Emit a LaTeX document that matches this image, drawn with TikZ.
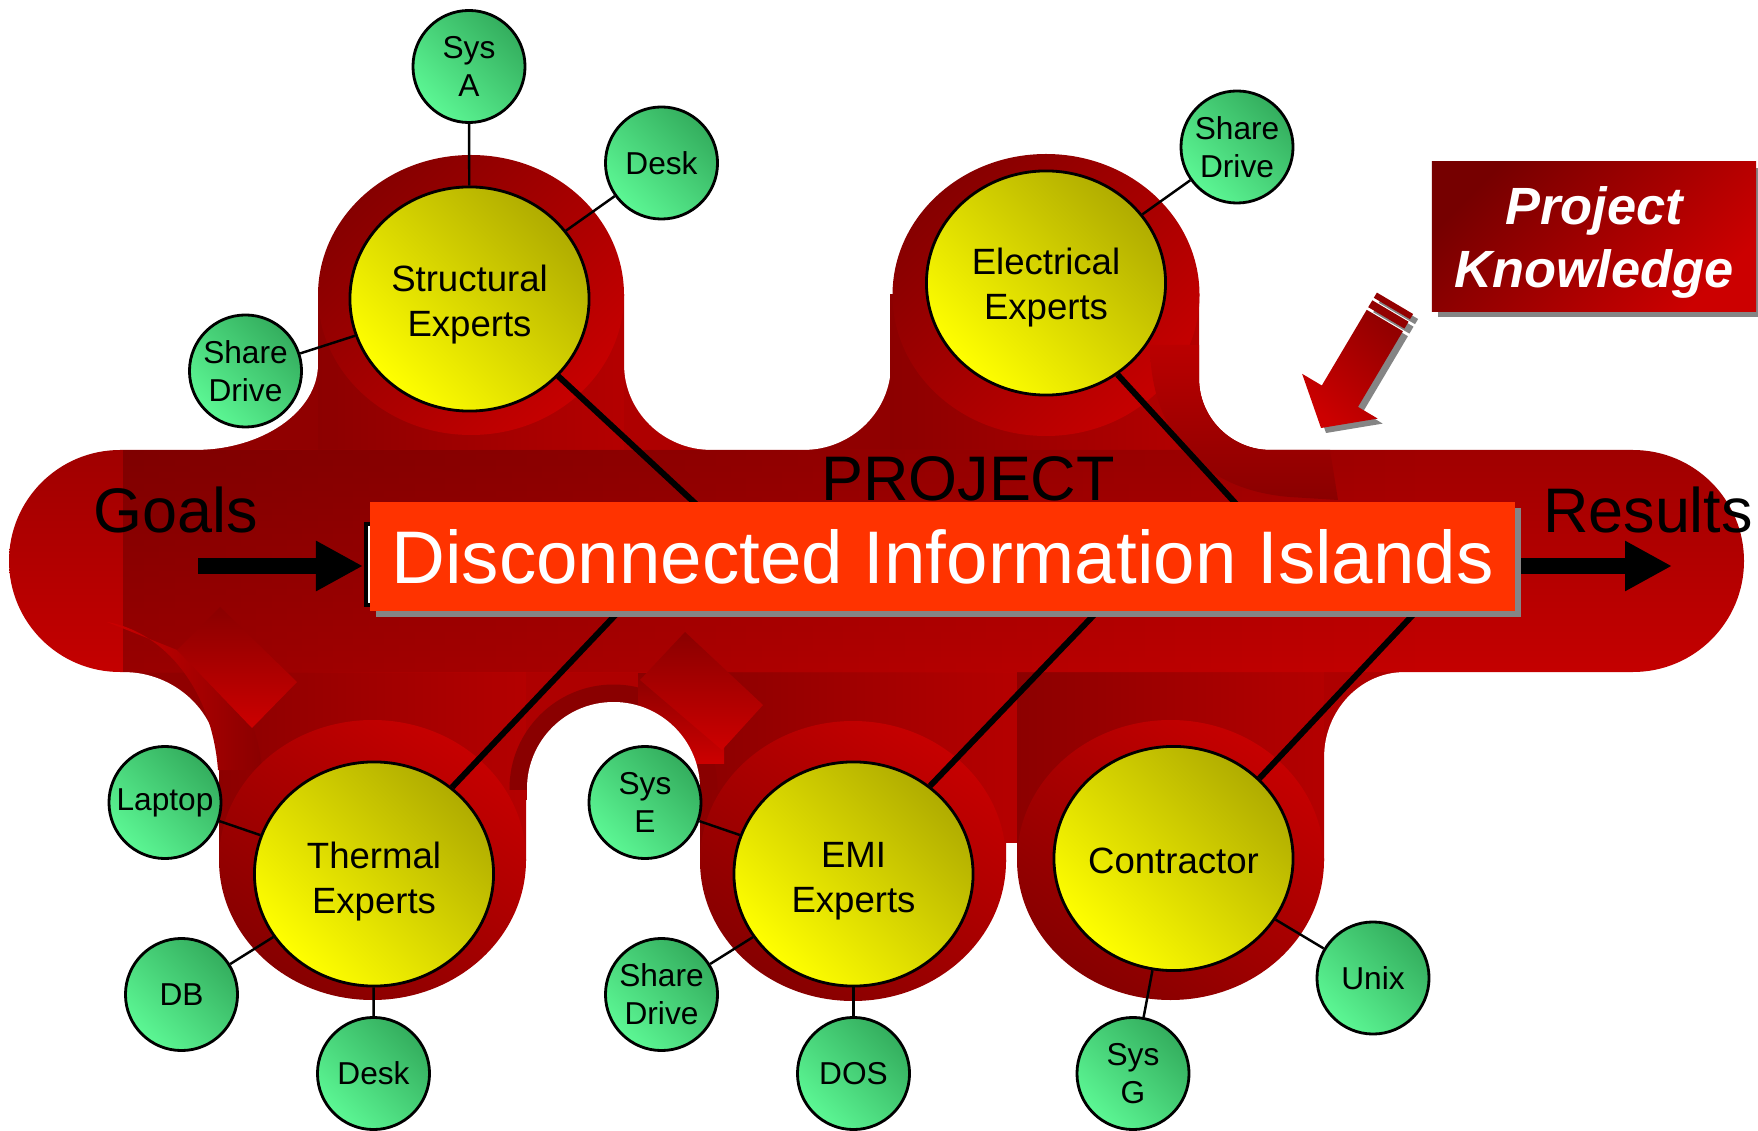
\documentclass[tikz,border=0pt]{standalone}
\usepackage{fontspec}
\setmainfont{Liberation Sans}
\usetikzlibrary{shapes.geometric,arrows.meta,fadings}

\definecolor{bandtop}{HTML}{A00000}
\definecolor{bandbot}{HTML}{C40000}
\definecolor{bandshadow}{HTML}{3A0000}
\definecolor{stemdark}{HTML}{8C0000}
\definecolor{stemlight}{HTML}{B40000}
\definecolor{filletdark}{HTML}{900000}
\definecolor{filletlight}{HTML}{AE0000}
\definecolor{halodark}{HTML}{860000}
\definecolor{halolight}{HTML}{C60000}
\definecolor{ringdark}{HTML}{8A0000}
\definecolor{crescenttop}{HTML}{BA0000}
\definecolor{ghostdark}{HTML}{8A0000}
\definecolor{ghostlight}{HTML}{CC0000}
\definecolor{yellowdark}{HTML}{B0AC00}
\definecolor{yellowlight}{HTML}{FFFF00}
\definecolor{greendark}{HTML}{34AE5E}
\definecolor{greenlight}{HTML}{5CF794}
\definecolor{banner}{HTML}{FF3300}
\definecolor{shadowgray}{HTML}{858585}
\definecolor{pkdark}{HTML}{760000}
\definecolor{pklight}{HTML}{CC0000}
\definecolor{pkarrowdark}{HTML}{930000}
\definecolor{pkarrowlight}{HTML}{CC0000}

% darkening that is strongest on the left and vanishes to the right
\tikzfading[name=leftheavy, left color=transparent!0, right color=transparent!100]

\tikzset{
  expert/.style={ellipse, draw=black, line width=0.8pt, inner sep=0pt,
    minimum width=2.39cm, minimum height=2.24cm,
    top color=yellowdark, bottom color=yellowlight, shading angle=-45},
  expertlabel/.style={align=center, inner sep=0pt,
    font=\fontsize{10.4}{12.8}\selectfont},
  store/.style={circle, draw=black, line width=0.8pt, inner sep=0pt,
    minimum size=1.12cm, align=center,
    font=\fontsize{9}{10.8}\selectfont,
    top color=greendark, bottom color=greenlight, shading angle=-45},
  link/.style={draw=black, line width=0.7pt},
  spoke/.style={draw=black, line width=1.7pt},
  bigword/.style={anchor=base, inner sep=0pt, font=\fontsize{17.9}{20}\selectfont},
  flow/.style={draw=black, line width=0.15cm, -{Triangle[length=0.47cm, width=0.47cm]}},
}

\begin{document}
\begin{tikzpicture}[x=0.01cm, y=-0.01cm]
\path[use as bounding box, fill=white] (0,0) rectangle (1758,1131);

% concave fillets where the stems meet the band
\fill[filletdark] (194,364) rectangle (318,450);
\fill[white] (194,364) ellipse [x radius=124, y radius=86];
\fill[filletlight] (624,364) rectangle (712,450);
\fill[white] (712,364) ellipse [x radius=88, y radius=86];
\fill[filletdark] (803,364) rectangle (891,450);
\fill[white] (803,364) ellipse [x radius=88, y radius=86];
\fill[filletlight] (1199,378) rectangle (1271,450);
\fill[white] (1271,378) ellipse [x radius=72, y radius=72];
\fill[filletdark] (123,670) rectangle (219,764);
\fill[white] (123,764) ellipse [x radius=96, y radius=92];
\fill[filletlight] (1324,670) rectangle (1405,758);
\fill[white] (1405,758) ellipse [x radius=81, y radius=86];

% slabs between the lower stems
\fill[filletlight] (520,668) rectangle (706,800);
\fill[stemlight] (1000,668) rectangle (1023,843);

% stems
\shade[left color=stemdark, right color=stemlight] (318,295) rectangle (624,452);
\shade[left color=stemdark, right color=stemlight] (890,295) rectangle (1199,452);
\shade[left color=stemdark, right color=stemlight] (219,668) rectangle (526,860);
\shade[left color=stemdark, right color=stemlight] (700,668) rectangle (1006,861);
\shade[left color=stemdark, right color=stemlight] (1017,668) rectangle (1324,860);

% the project band, darker towards its upper left
\shade[top color=bandtop, bottom color=bandbot, rounded corners=1.11cm]
  (9,450) rectangle (1744,672);
\fill[bandshadow, fill opacity=0.32, path fading=leftheavy] (123,450) rectangle (1420,672);

% darker rim over the arch between the lower stems
\begin{scope}
  \clip (500,660) rectangle (730,789);
  \fill[ringdark] (613.5,788.5) circle [radius=104];
\end{scope}

% faint arrows inside the band
\shade[left color=ghostlight, right color=ghostdark]
  (107,622) .. controls (165,632) and (212,690) .. (218,770) -- (262,770)
  .. controls (258,712) and (225,668) .. (177,650) -- cycle;
\shade[top color=ghostdark, bottom color=ghostlight] (220,607) -- (297,682) -- (252,728) -- (177,650) -- cycle;
\shade[top color=ghostdark, bottom color=ghostlight] (638,673) rectangle (724,763);
\shade[top color=ghostdark, bottom color=ghostlight] (685,632) -- (763,705) -- (722,750) -- (640,680) -- cycle;

% arch cut out below the band
\fill[white] (613.5,788.5) circle [radius=86.5];
\fill[white] (527,788) rectangle (700,1131);

% halos around the expert groups
\shade[top color=halodark, bottom color=halolight, shading angle=45] (471,295) ellipse [x radius=153, y radius=140];
\shade[top color=halodark, bottom color=halolight, shading angle=45] (1046,295) ellipse [x radius=153.5, y radius=141];
\shade[top color=halolight, bottom color=halodark, shading angle=-35] (372.5,860) ellipse [x radius=153.5, y radius=140];
\shade[top color=halolight, bottom color=halodark, shading angle=-35] (853,861) ellipse [x radius=153, y radius=140];
\shade[top color=halolight, bottom color=halodark, shading angle=-35] (1170.5,860) ellipse [x radius=153.5, y radius=140];

% dark crescent below the right fillet of the electrical stem
\shade[top color=crescenttop, bottom color=ringdark]
  (1150,345) .. controls (1150,430) and (1200,490) .. (1290,497) -- (1338,500)
  -- (1330,450) -- (1271,450) .. controls (1231.2,450) and (1199,417.8) .. (1199,378)
  -- (1199,345) -- cycle;

% expert groups
\node[expert] (struct) at (469.5,299) {};
\node[expert] (elec) at (1046,283) {};
\node[expert] (thermal) at (374,874) {};
\node[expert] (emi) at (853.5,874) {};
\node[expert] (contr) at (1173.5,858.5) {};

% hidden ends of the spokes behind the banner
\coordinate (hA) at (740,545);
\coordinate (hB) at (1270,541);
\coordinate (hC) at (658,570);
\coordinate (hD) at (1137,570);
\coordinate (hE) at (1455,570);

\draw[spoke] (struct.-41) -- (hA);
\draw[spoke] (elec.-52.4) -- (hB);
\draw[spoke] (hC) -- (thermal.48.1);
\draw[spoke] (hD) -- (emi.49.2);
\draw[spoke] (hE) -- (contr.43.1);

\node[expertlabel] (structText) at (469.5,304.5) {Structural\\Experts};
\node[expertlabel] (elecText) at (1046,288) {Electrical\\Experts};
\node[expertlabel] (thermalText) at (374,882) {Thermal\\Experts};
\node[expertlabel] (emiText) at (853.5,881) {EMI\\Experts};
\node[expertlabel] (contrText) at (1173.5,860.5) {Contractor};

% band labels and flow arrows
\node[bigword] (project) at (968,501) {PROJECT};
\coordinate (goalsTail) at (198,566);
\coordinate (goalsTip) at (363,566);
\coordinate (resultsTail) at (1515,566);
\coordinate (resultsTip) at (1672,566);
\draw[flow] (goalsTail) -- (goalsTip);
\draw[flow] (resultsTail) -- (resultsTip);
\node[bigword] (goals) at (176,533) {Goals};
\node[bigword] (results) at (1648,533) {Results};

% banner
\draw[black, line width=1pt, fill=white] (366,524) rectangle (1500,605);
\fill[shadowgray] (376,508) rectangle (1521,617);
\node[fill=banner, inner sep=0pt, minimum width=11.45cm, minimum height=1.09cm,
  text=white, font=\fontsize{21.2}{24}\selectfont] (islands) at (942.5,556.5)
  {Disconnected Information Islands};

% information stores
\node[store] (sysA) at (469,66.5) {Sys\\A};
\node[store] (deskA) at (661.5,163) {Desk};
\node[store] (shareA) at (245.5,371) {Share\\Drive};
\node[store] (shareB) at (1237,147) {Share\\Drive};
\node[store] (laptop) at (165,802.5) {Laptop};
\node[store] (db) at (181.5,994.5) {DB};
\node[store] (deskB) at (373.5,1073.5) {Desk};
\node[store] (sysE) at (645,802.5) {Sys\\E};
\node[store] (shareC) at (661.5,994.5) {Share\\Drive};
\node[store] (dos) at (853.5,1073.5) {DOS};
\node[store] (unix) at (1373,978) {Unix};
\node[store] (sysG) at (1133,1073.5) {Sys\\G};

\draw[link] (sysA) -- (struct);
\draw[link] (deskA) -- (struct);
\draw[link] (shareA) -- (struct);
\draw[link] (shareB) -- (elec);
\draw[link] (laptop) -- (thermal);
\draw[link] (db) -- (thermal);
\draw[link] (deskB) -- (thermal);
\draw[link] (sysE) -- (emi);
\draw[link] (shareC) -- (emi);
\draw[link] (dos) -- (emi);
\draw[link] (unix) -- (contr);
\draw[link] (sysG) -- (contr);

% project knowledge callout
\fill[shadowgray] (1438,168) rectangle (1762,317);
\node[inner sep=0pt, minimum width=3.24cm, minimum height=1.49cm,
  top color=pkdark, bottom color=pklight, shading angle=45] (pkbox) at (1594,236.5) {};
\node[align=center, inner sep=0pt, text=white,
  font=\bfseries\itshape\fontsize{14.9}{17.9}\selectfont] (pktext) at (1594,242)
  {Project\\Knowledge};

% arrow from the callout towards the band
\begin{scope}[shift={(5,5)}]
  \fill[shadowgray] (1321,428) -- (1377.7,418.6) -- (1358,406.9) -- (1402.9,331.2)
    -- (1366.7,309.8) -- (1321.8,385.5) -- (1302.1,373.8) -- cycle;
  \fill[shadowgray] (1404.4,328.6) -- (1408.5,321.7) -- (1372.3,300.3) -- (1368.2,307.2) -- cycle;
  \fill[shadowgray] (1410.0,319.2) -- (1413.1,314.0) -- (1376.9,292.6) -- (1373.8,297.8) -- cycle;
\end{scope}
\shade[top color=pkarrowdark, bottom color=pkarrowlight, shading angle=-40]
  (1321,428) -- (1377.7,418.6) -- (1358,406.9) -- (1402.9,331.2)
  -- (1366.7,309.8) -- (1321.8,385.5) -- (1302.1,373.8) -- cycle;
\fill[pkarrowdark] (1404.4,328.6) -- (1408.5,321.7) -- (1372.3,300.3) -- (1368.2,307.2) -- cycle;
\fill[pkarrowdark] (1410.0,319.2) -- (1413.1,314.0) -- (1376.9,292.6) -- (1373.8,297.8) -- cycle;
\end{tikzpicture}
\end{document}
